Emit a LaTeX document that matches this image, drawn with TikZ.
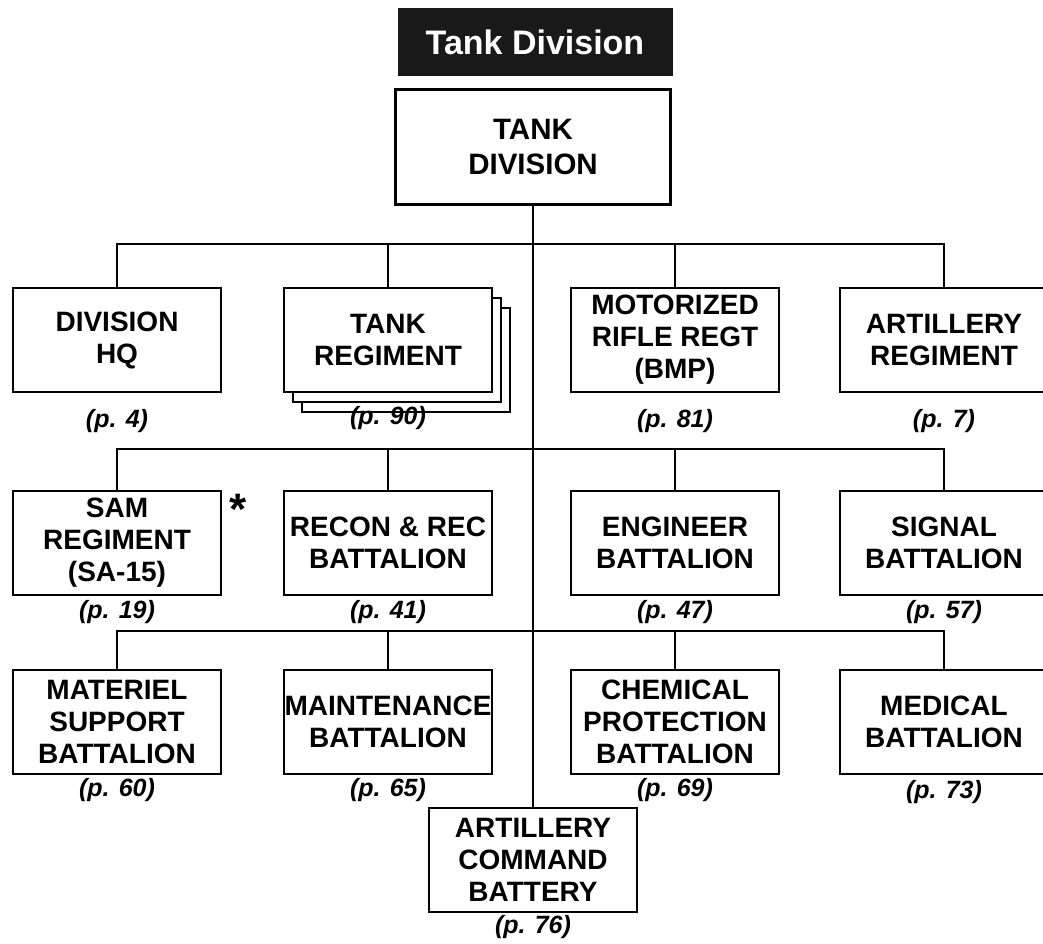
\documentclass[tikz,border=0pt]{standalone}
\usepackage{fontspec}
\setmainfont{Liberation Sans}
\usetikzlibrary{shadows}

\begin{document}
\begin{tikzpicture}[
    x=1pt, y=-1pt,
    unit/.style={rectangle, draw, line width=2.4pt, fill=white, minimum width=208pt,
                 minimum height=104pt, inner xsep=0pt, inner ysep=2pt, align=center,
                 font=\bfseries\fontsize{28}{32}\selectfont},
    head/.style={unit, minimum width=275pt, minimum height=115pt,
                 font=\bfseries\fontsize{29.5}{35}\selectfont},
    title/.style={rectangle, fill=black!90, text=white, minimum width=275pt,
                  minimum height=68pt, font=\bfseries\fontsize{34}{40}\selectfont},
    page/.style={font=\bfseries\itshape\fontsize{25}{28}\selectfont},
    link/.style={line width=2.2pt}
]
    \fill[white] (0,0) rectangle (1043,943);
    \useasboundingbox (0,0) rectangle (1043,943);

    \node[title] (ttl) at (535,42) {Tank Division};
    \node[head] (div) at (533,147) {TANK\\DIVISION};

    % first row
    \node[unit] (hq) at (117,340) {DIVISION\\HQ};
    \node[unit, copy shadow={shadow xshift=18pt, shadow yshift=-20pt},
          copy shadow={shadow xshift=9pt, shadow yshift=-10pt}] (treg) at (388,340) {TANK\\REGIMENT};
    \node[unit] (mrr) at (675,340) {MOTORIZED\\RIFLE REGT\\(BMP)};
    \node[unit] (art) at (944,340) {ARTILLERY\\REGIMENT};

    % second row
    \node[unit] (sam) at (117,543) {SAM\\REGIMENT\\(SA-15)};
    \node[unit] (recon) at (388,543) {RECON \& REC\\BATTALION};
    \node[unit] (eng) at (675,543) {ENGINEER\\BATTALION};
    \node[unit] (sig) at (944,543) {SIGNAL\\BATTALION};
    \node[font=\bfseries\fontsize{44}{44}\selectfont] (star) at (238,509) {*};

    % third row
    \node[unit] (mat) at (117,722) {MATERIEL\\SUPPORT\\BATTALION};
    \node[unit] (maint) at (388,722) {MAINTENANCE\\BATTALION};
    \node[unit] (chem) at (675,722) {CHEMICAL\\PROTECTION\\BATTALION};
    \node[unit] (med) at (944,722) {MEDICAL\\BATTALION};

    \node[unit] (acb) at (533,860) {ARTILLERY\\COMMAND\\BATTERY};

    % page references
    \node[page] (hqp) at (117,421) {(p. 4)};
    \node[page] (tregp) at (388,418) {(p. 90)};
    \node[page] (mrrp) at (675,421) {(p. 81)};
    \node[page] (artp) at (944,421) {(p. 7)};
    \node[page] (samp) at (117,612) {(p. 19)};
    \node[page] (reconp) at (388,612) {(p. 41)};
    \node[page] (engp) at (675,612) {(p. 47)};
    \node[page] (sigp) at (944,612) {(p. 57)};
    \node[page] (matp) at (117,790) {(p. 60)};
    \node[page] (maintp) at (388,790) {(p. 65)};
    \node[page] (chemp) at (675,790) {(p. 69)};
    \node[page] (medp) at (944,792) {(p. 73)};
    \node[page] (acbp) at (533,927) {(p. 76)};

    % connectors
    \coordinate (bus1) at (533,244);
    \coordinate (bus2) at (533,449);
    \coordinate (bus3) at (533,631);

    \draw[link] (div.south) -- (acb.north);
    \draw[link] (hq.north) |- (bus1 -| art.north) -- (art.north);
    \draw[link] (treg.north) -- (treg.north |- bus1);
    \draw[link] (mrr.north) -- (mrr.north |- bus1);
    \draw[link] (sam.north) |- (bus2 -| sig.north) -- (sig.north);
    \draw[link] (recon.north) -- (recon.north |- bus2);
    \draw[link] (eng.north) -- (eng.north |- bus2);
    \draw[link] (mat.north) |- (bus3 -| med.north) -- (med.north);
    \draw[link] (maint.north) -- (maint.north |- bus3);
    \draw[link] (chem.north) -- (chem.north |- bus3);
\end{tikzpicture}
\end{document}
